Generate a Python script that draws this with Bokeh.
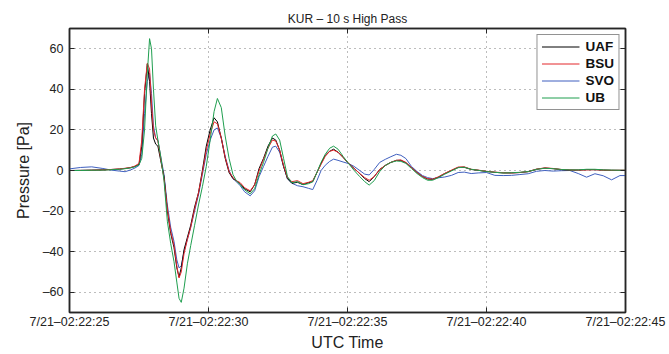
from bokeh.plotting import figure
from bokeh.models import (Range1d, FixedTicker, LinearAxis, Legend, LegendItem)
from bokeh.embed import file_html
from bokeh.resources import INLINE

# Seconds after 02:22:00 UTC on 7/21
t = [25.0, 25.4, 25.8, 26.2, 26.5, 26.8, 27.0, 27.2, 27.35, 27.5,
     27.6, 27.7, 27.8, 27.88, 27.95, 28.02, 28.1, 28.18, 28.28, 28.4,
     28.52, 28.64, 28.76, 28.86, 28.94, 29.02, 29.12, 29.24, 29.36, 29.5,
     29.64, 29.78, 29.92, 30.06, 30.2, 30.32, 30.46, 30.6, 30.74, 30.88,
     31.0, 31.14, 31.3, 31.5, 31.66, 31.82, 31.98, 32.14, 32.3, 32.42,
     32.56, 32.7, 32.84, 33.0, 33.2, 33.4, 33.6, 33.75, 33.9, 34.05,
     34.2, 34.36, 34.5, 34.66, 34.84, 35.04, 35.24, 35.44, 35.62, 35.78,
     35.96, 36.16, 36.36, 36.56, 36.76, 36.92, 37.1, 37.3, 37.5, 37.7,
     37.88, 38.06, 38.26, 38.5, 38.74, 38.98, 39.2, 39.45, 39.7, 40.0,
     40.3, 40.6, 40.9, 41.2, 41.5, 41.8, 42.1, 42.4, 42.7, 43.0,
     43.3, 43.6, 43.9, 44.2, 44.5, 44.8, 45.0]

uaf = [0.0, 0.1, 0.2, 0.3, 0.5, 0.7, 1.0, 1.4, 2.0, 3.0,
       12, 38, 52.5, 44, 28, 16, 13, 12, 5, -3,
       -20, -31, -38, -48, -52.5, -48, -39, -33, -27, -18,
       -11, 0, 12, 20, 26, 24, 16, 6, -1, -4,
       -5, -6.5, -9, -10.5, -7, 1, 6, 12, 16, 15,
       10, 2, -4, -6.3, -5.8, -7, -6, -5.5, -1, 3.5,
       7.5, 9.5, 10.5, 9, 6.5, 3.4, 1, -1.5, -4, -5.5,
       -3, 0.5, 2.5, 4, 5, 5, 3.8, 1.5, -1, -3,
       -4.2, -4.4, -3.3, -1.5, 0.0, 1.5, 1.6, 0.5, 0.1, -0.5,
       -0.9, -1.2, -1.2, -1.0, -0.6, 0.6, 1.2, 0.9, 0.4, 0.2,
       0.2, 0.4, 0.4, 0.2, 0.1, 0.1, 0.1]

bsu = [0.0, 0.0, 0.1, 0.3, 0.5, 0.8, 1.1, 1.5, 2.2, 3.5,
       15, 40, 53, 50, 33, 20, 16, 14.5, 6, -4,
       -19, -30, -37, -47, -53, -50, -41, -34, -28, -19,
       -11, -1, 10, 18, 24, 23, 16, 6.5, -0.5, -3.5,
       -5, -6, -8.5, -10, -7, 0, 5.5, 11, 15, 14.5,
       10, 2.5, -3.5, -5.5, -5, -6.5, -5.8, -5, -1, 3,
       7, 9.5, 10, 9, 6.5, 3.5, 1, -1.5, -3.5, -4.8,
       -3, 0.5, 2.5, 4, 5, 5.2, 4, 1.5, -1, -3,
       -4, -4.3, -3.2, -1.4, 0.2, 1.7, 1.8, 0.6, 0.2, -0.4,
       -0.8, -1.1, -1.2, -1.0, -0.5, 0.7, 1.3, 1.0, 0.5, 0.3,
       0.2, 0.3, 0.4, 0.2, 0.1, 0.1, 0.1]

svo = [0.8, 1.5, 1.8, 1.0, 0.2, -0.3, -0.6, 0.3, 1.2, 2.5,
       8, 28, 44, 48, 38, 22, 16, 15, 7, -2,
       -17, -28, -35, -44, -48, -47, -40, -34, -28, -20,
       -12, -2, 8, 15, 20, 21, 16, 7, 0, -4,
       -5.5, -7.5, -10.5, -12.5, -10, -3, 2, 7, 11.5, 12,
       9, 2, -4, -6.3, -7.5, -8, -8.8, -9.4, -5, 0,
       2.6, 4.5, 5.6, 5, 4.2, 3.4, 2, 0, -1.8, -2.2,
       0.5, 4, 5.5, 6.8, 8, 7.5, 5.9, 2, -0.5, -2.5,
       -3.5, -4, -3.6, -3.2, -2.4, -1.0, -0.8, -1.5, -1.2, -1.0,
       -2.4, -2.5, -2.4, -2.0, -1.6, -0.4, 0.0, -0.3, -0.1, 0.0,
       -1.5, -3.3, -1.6, -2.6, -4.6, -2.5, -2.5]

ub = [0.0, 0.0, 0.1, 0.2, 0.4, 0.6, 0.9, 1.3, 1.8, 2.8,
      6, 20, 48, 65, 60, 40, 22, 15, 7, -5,
      -25, -36, -45, -55, -63, -65, -58, -46, -37, -27,
      -17, -8, 2, 15, 29, 35.5, 31, 17, 6, -2,
      -5, -7, -9.5, -11.5, -9, -2, 4, 11, 17, 18,
      15, 6, -3, -6, -5.5, -7, -6.5, -5.5, -1, 4,
      8, 11, 12, 10.5, 7, 3.4, 0, -3, -5.5, -7.2,
      -5, -0.5, 2.5, 4, 4.7, 4.5, 3.5, 1, -1.5, -3.5,
      -4.8, -4.8, -3.6, -1.8, -0.2, 1.4, 1.6, 0.6, 0.1, -0.5,
      -0.9, -1.2, -1.1, -0.9, -0.5, 0.6, 1.1, 0.9, 0.5, 0.3,
      0.3, 0.6, 0.6, 0.3, 0.2, 0.1, 0.1]

x_ticks = [25, 30, 35, 40, 45]
x_tick_labels = ["7/21–02:22:25", "7/21–02:22:30", "7/21–02:22:35",
                 "7/21–02:22:40", "7/21–02:22:45"]
y_ticks = [-60, -40, -20, 0, 20, 40, 60]
y_tick_labels = ["–60", "–40", "–20", "0", "20", "40", "60"]

FONT = "Liberation Sans"
FRAME = "#262626"

p = figure(width=669, height=354, output_backend="svg", toolbar_location=None,
           x_range=Range1d(25, 45), y_range=Range1d(-70, 70),
           min_border_left=69, min_border_right=44,
           min_border_top=28, min_border_bottom=42,
           x_axis_label="UTC Time", y_axis_label="Pressure [Pa]")

p.title.text = "KUR – 10 s High Pass"
p.title.align = "center"
p.title.text_font = FONT
p.title.text_font_size = "12px"
p.title.text_font_style = "normal"
p.title.text_color = "#222222"
p.title.standoff = 6

p.background_fill_color = "white"
p.border_fill_color = "white"
p.outline_line_color = FRAME
p.outline_line_width = 1.5

for ax, ticks, labels in ((p.xaxis[0], x_ticks, x_tick_labels),
                          (p.yaxis[0], y_ticks, y_tick_labels)):
    ax.ticker = FixedTicker(ticks=ticks)
    ax.major_label_overrides = dict(zip(ticks, labels))
    ax.major_tick_in = 5
    ax.major_tick_out = 0
    ax.minor_tick_line_color = None
    ax.axis_line_color = FRAME
    ax.axis_line_width = 1.5
    ax.major_tick_line_color = FRAME
    ax.major_label_text_font = FONT
    ax.major_label_text_font_size = "12.5px"
    ax.major_label_text_color = "#222222"
    ax.axis_label_text_font = FONT
    ax.axis_label_text_font_size = "16px"
    ax.axis_label_text_font_style = "normal"
    ax.axis_label_text_color = "#222222"

p.xaxis[0].major_label_standoff = 2
p.xaxis[0].axis_label_standoff = 2
p.yaxis[0].major_label_standoff = 6
p.yaxis[0].axis_label_standoff = 8

# Tick marks on the top and right edges of the box (no labels there)
for loc, ticks in (("right", y_ticks), ("above", x_ticks)):
    ax = LinearAxis(ticker=FixedTicker(ticks=ticks))
    ax.major_tick_in = 5
    ax.major_tick_out = 0
    ax.minor_tick_line_color = None
    ax.axis_line_color = FRAME
    ax.axis_line_width = 1.5
    ax.major_tick_line_color = FRAME
    ax.major_label_text_color = None
    ax.major_label_standoff = 0
    p.add_layout(ax, loc)

for g in (p.xgrid[0], p.ygrid[0]):
    g.grid_line_color = "#7a7a7a"
    g.grid_line_dash = "1 4"
    g.grid_line_width = 1
p.xgrid[0].ticker = FixedTicker(ticks=x_ticks)
p.ygrid[0].ticker = FixedTicker(ticks=y_ticks)

colors = {"UAF": "#000000", "BSU": "#e3262b", "SVO": "#3f5fbf", "UB": "#1f9e4f"}
series = {"UAF": uaf, "BSU": bsu, "SVO": svo, "UB": ub}

renderers = {}
for name in ("SVO", "UAF", "BSU", "UB"):
    renderers[name] = p.line(t, series[name], line_color=colors[name], line_width=1.0)

legend = Legend(items=[LegendItem(label=n, renderers=[renderers[n]])
                       for n in ("UAF", "BSU", "SVO", "UB")],
                location="top_right")
legend.label_text_font = FONT
legend.label_text_font_size = "13.5px"
legend.label_text_font_style = "bold"
legend.label_text_color = "#111111"
legend.border_line_color = FRAME
legend.border_line_width = 1.5
legend.background_fill_color = "white"
legend.background_fill_alpha = 1
legend.margin = 6
legend.padding = 4
legend.spacing = 2
legend.label_height = 15
legend.glyph_height = 15
legend.glyph_width = 38
legend.label_standoff = 6
p.add_layout(legend)

open("out.html", "w").write(file_html(p, INLINE))
